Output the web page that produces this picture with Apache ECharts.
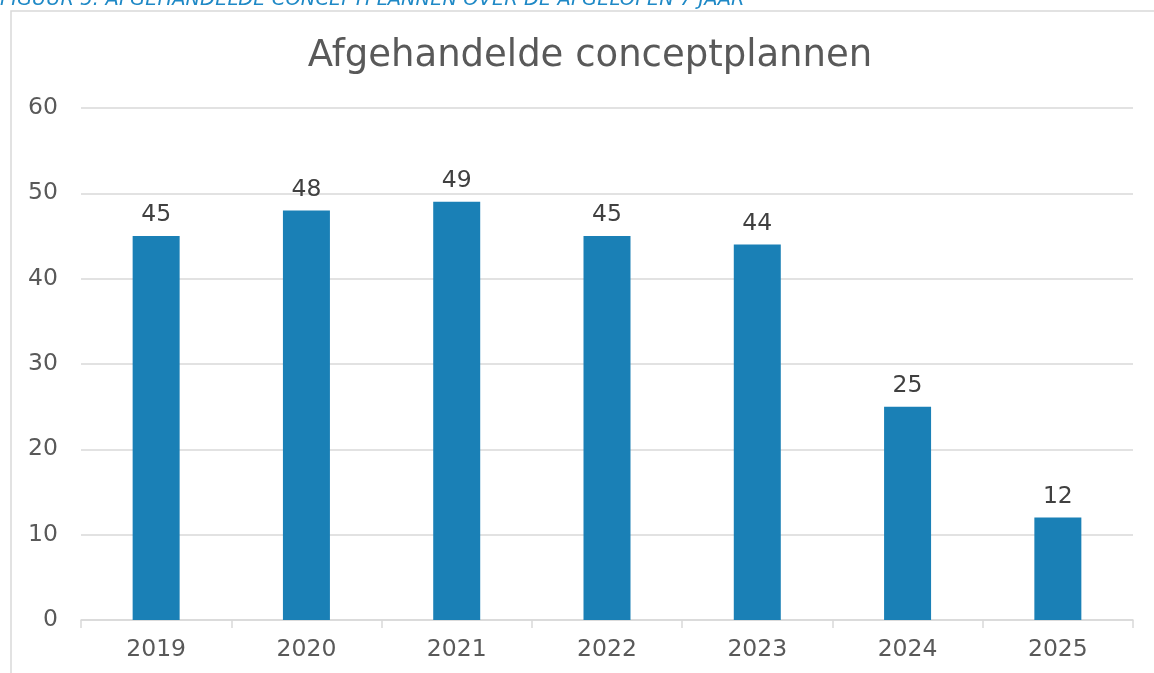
<!DOCTYPE html>
<html>
<head>
<meta charset="utf-8">
<script src="https://cdn.jsdelivr.net/npm/echarts@6/dist/echarts.min.js"></script>
<style>
  html, body { margin: 0; padding: 0; background: #fff; }
  #main { width: 1154px; height: 673px; }
</style>
</head>
<body>
<div id="main"></div>
<script>
const years = ['2019', '2020', '2021', '2022', '2023', '2024', '2025'];
const plannen = [45, 48, 49, 45, 44, 25, 12];
const yTicks = { min: 0, max: 60, interval: 10 };

const chart = echarts.init(document.getElementById('main'));
const font = 'DejaVu Sans, Verdana, sans-serif';

chart.setOption({
  animation: false,
  textStyle: { fontFamily: font },
  graphic: [
    {
      type: 'rect',
      shape: { x: 11, y: 11, width: 1200, height: 700 },
      style: { fill: '#fff', stroke: '#d9d9d9', lineWidth: 1.5 },
      z: -10
    }
  ],
  title: [
    {
      text: 'FIGUUR 5: AFGEHANDELDE CONCEPTPLANNEN OVER DE AFGELOPEN 7 JAAR',
      left: 0,
      top: -10,
      padding: 0,
      textStyle: {
        fontFamily: font,
        fontSize: 19.5,
        fontStyle: 'italic',
        fontWeight: 'normal',
        color: '#1f89c6'
      }
    },
    {
      text: 'Afgehandelde conceptplannen',
      left: 585,
      textAlign: 'center',
      top: 33,
      textStyle: { fontFamily: font, fontSize: 37, fontWeight: 'normal', color: '#595959' }
    }
  ],
  grid: { left: 81, right: 21, top: 108, bottom: 53, containLabel: false },
  xAxis: {
    type: 'category',
    data: years,
    axisLine: { lineStyle: { color: '#d9d9d9', width: 1.5 } },
    axisTick: { show: true, length: 8, lineStyle: { color: '#d9d9d9', width: 1.5 } },
    axisLabel: { color: '#595959', fontSize: 23.5, margin: 18, fontFamily: font }
  },
  yAxis: {
    type: 'value',
    min: yTicks.min,
    max: yTicks.max,
    interval: yTicks.interval,
    axisLine: { show: false },
    axisTick: { show: false },
    axisLabel: { color: '#595959', fontSize: 23.5, margin: 23, fontFamily: font },
    splitLine: { lineStyle: { color: '#d9d9d9', width: 1.5 } }
  },
  series: [{
    type: 'bar',
    data: plannen,
    barWidth: 47,
    itemStyle: { color: '#1a80b6' },
    label: {
      show: true,
      position: 'top',
      distance: 9,
      color: '#404040',
      fontSize: 23.5,
      fontFamily: font
    }
  }]
});
</script>
</body>
</html>
